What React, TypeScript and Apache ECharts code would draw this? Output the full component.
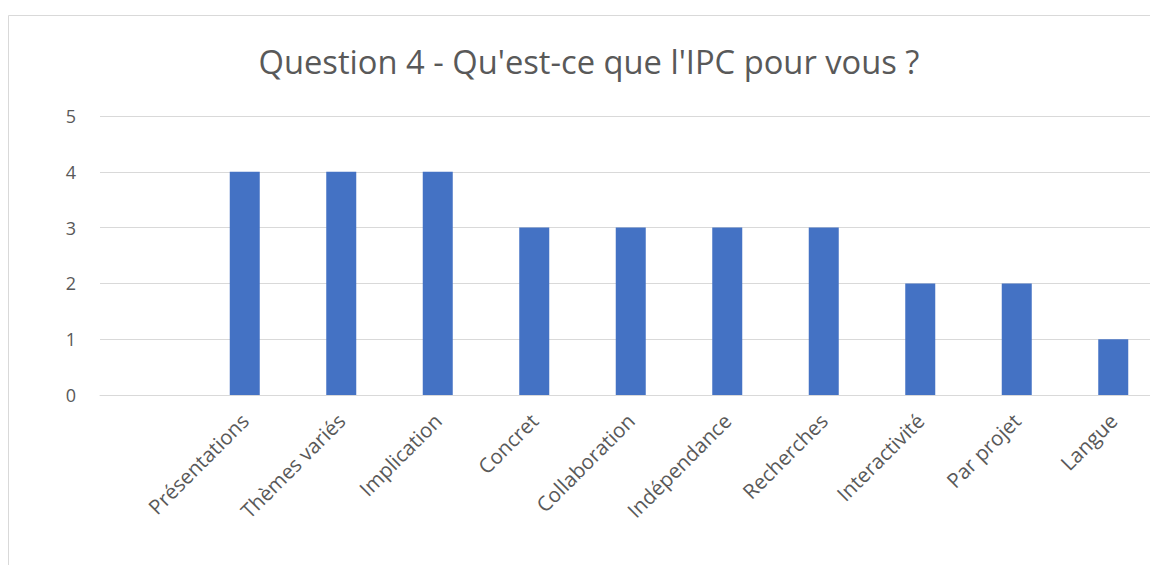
import React, { useEffect, useRef } from "react";
import * as echarts from "echarts";

const titleText = "Question 4 - Qu'est-ce que l'IPC pour vous ?";
// first category is an empty slot in the original chart
const categories = ["", "Présentations", "Thèmes variés", "Implication", "Concret", "Collaboration", "Indépendance", "Recherches", "Interactivité", "Par projet", "Langue"];
const values: (number | null)[] = [null, 4, 4, 4, 3, 3, 3, 3, 2, 2, 1];
const yTicks = { min: 0, max: 5, interval: 1 };

const FONT = "Open Sans";
const TEXT = "#595959";

export default function App() {
  const ref = useRef<HTMLDivElement>(null);
  useEffect(() => {
    const chart = echarts.init(ref.current!, undefined, { renderer: "svg" });
    chart.setOption({
      animation: false,
      backgroundColor: "#ffffff",
      title: {
        text: titleText,
        left: 584,
        textAlign: "center",
        top: 40,
        textStyle: { fontFamily: FONT, fontSize: 32.7, fontWeight: "normal", color: TEXT },
      },
      graphic: [
        {
          type: "rect",
          shape: { x: 8.5, y: 15.5, width: 1200, height: 600 },
          style: { fill: "none", stroke: "#d9d9d9", lineWidth: 1 },
          silent: true,
        },
      ],
      grid: { left: 100, top: 116, width: 1061.5, height: 279, containLabel: false },
      xAxis: {
        type: "category",
        data: categories,
        axisLine: { show: true, lineStyle: { color: "#d9d9d9", width: 1 } },
        axisTick: { show: false },
        axisLabel: {
          interval: 0,
          rotate: 45,
          margin: 22,
          fontFamily: FONT,
          fontSize: 20.5,
          color: TEXT,
        },
      },
      yAxis: {
        type: "value",
        min: yTicks.min,
        max: yTicks.max,
        interval: yTicks.interval,
        axisLine: { show: false },
        axisTick: { show: false },
        splitLine: { lineStyle: { color: "#d9d9d9", width: 1 } },
        axisLabel: { fontFamily: FONT, fontSize: 18, color: TEXT, margin: 24 },
      },
      series: [
        {
          type: "bar",
          data: values,
          barWidth: 30,
          itemStyle: { color: "#4472c4" },
        },
      ],
    });
    return () => chart.dispose();
  }, []);
  return (
    <div style={{ position: "absolute", left: 0, top: 0, width: 1150, height: 565, overflow: "hidden" }}>
      <div ref={ref} style={{ width: 1180, height: 565 }} />
    </div>
  );
}
